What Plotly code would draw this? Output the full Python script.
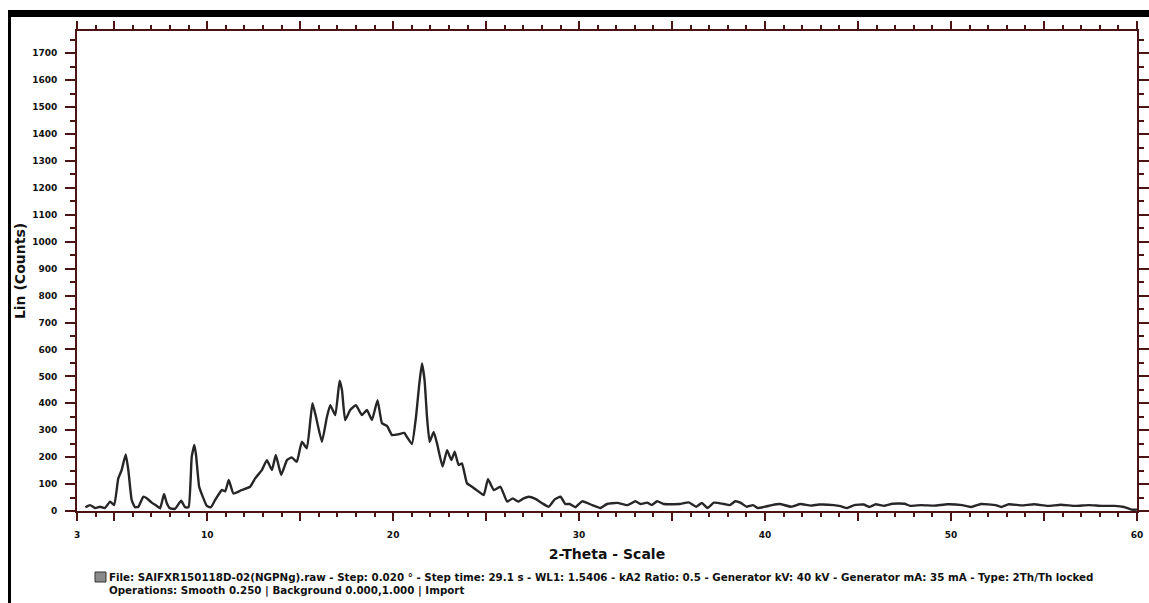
import plotly.graph_objects as go

# Diffraction pattern: 2-theta (degrees) and intensity (counts)
two_theta = [
    3.45, 3.7, 3.97, 4.24, 4.5, 4.78, 5.0, 5.22, 5.4, 5.62, 5.76, 5.94, 6.12, 6.3,
    6.57, 6.75, 7.02, 7.29, 7.47, 7.68, 7.83, 8.0, 8.27, 8.6, 8.81, 9.0, 9.17, 9.31,
    9.4, 9.57, 9.74, 9.98, 10.2, 10.43, 10.79, 10.97, 11.16, 11.41, 11.86, 12.31,
    12.58, 12.94, 13.21, 13.48, 13.69, 13.98, 14.29, 14.55, 14.82, 15.09, 15.36,
    15.66, 15.85, 16.17, 16.44, 16.62, 16.89, 17.12, 17.25, 17.42, 17.69, 18.0,
    18.32, 18.59, 18.86, 19.16, 19.4, 19.67, 19.94, 20.29, 20.6, 20.75, 21.01,
    21.23, 21.41, 21.55, 21.69, 21.82, 21.96, 22.18, 22.36, 22.66, 22.9, 23.13,
    23.31, 23.52, 23.7, 23.97, 24.24, 24.6, 24.87, 25.1, 25.41, 25.77, 26.13,
    26.43, 26.72, 27.02, 27.29, 27.65, 28.01, 28.37, 28.69, 29.0, 29.26, 29.5,
    29.8, 30.16, 30.7, 31.15, 31.5, 32.05, 32.6, 33.03, 33.3, 33.66, 33.9, 34.2,
    34.55, 35.4, 35.9, 36.3, 36.6, 36.9, 37.25, 37.8, 38.1, 38.4, 38.7, 39.0,
    39.35, 39.6, 40.0, 40.37, 40.8, 41.4, 41.9, 42.45, 42.9, 43.7, 44.06, 44.4,
    44.8, 45.3, 45.6, 45.95, 46.4, 46.85, 47.5, 47.8, 48.4, 49.1, 49.8, 50.6,
    51.1, 51.6, 52.4, 52.7, 53.1, 53.8, 54.47, 55.2, 55.9, 56.7, 57.4, 58.1,
    58.8, 59.3, 59.7, 60.0,
]
counts = [
    14, 22, 11, 16, 11, 35, 22, 121, 152, 210, 152, 41, 14, 16,
    53, 47, 31, 19, 10, 63, 29, 10, 8, 38, 14, 14, 202, 245,
    208, 90, 57, 19, 14, 41, 78, 73, 115, 65, 78, 90,
    121, 152, 189, 152, 208, 134, 189, 199, 183, 257, 233,
    400, 350, 257, 350, 393, 356, 484, 449, 338, 375, 393,
    356, 375, 338, 412, 326, 316, 282, 285, 290, 274, 249,
    350, 474, 548, 486, 350, 257, 294, 251, 165, 226, 189,
    220, 171, 177, 103, 90, 72, 59, 118, 78, 90, 35,
    47, 35, 47, 53, 45, 29, 16, 43, 53, 26, 26,
    14, 36, 22, 11, 26, 30, 22, 36, 26, 31, 22, 36,
    26, 26, 32, 16, 30, 11, 31, 26, 22, 36, 30, 16,
    22, 11, 16, 22, 26, 16, 26, 20, 24, 22, 18, 11,
    22, 24, 15, 25, 19, 27, 27, 19, 22, 20, 25, 22,
    15, 26, 22, 15, 25, 21, 25, 19, 23, 19, 22, 19,
    19, 15, 5, 5,
]

x_tickvals = [3, 5, 10, 15, 20, 25, 30, 35, 40, 45, 50, 55, 60]
x_ticktext = ["3", "", "10", "", "20", "", "30", "", "40", "", "50", "", "60"]
y_tickvals = list(range(0, 1800, 100))
y_ticktext = [str(v) for v in y_tickvals]

x_title = "2-Theta - Scale"
y_title = "Lin (Counts)"
footer_1 = ("File: SAIFXR150118D-02(NGPNg).raw - Step: 0.020 ° - Step time: 29.1 s - "
            "WL1: 1.5406 - kA2 Ratio: 0.5 - Generator kV: 40 kV - Generator mA: 35 mA - "
            "Type: 2Th/Th locked")
footer_2 = "Operations: Smooth 0.250 | Background 0.000,1.000 | Import"

AXIS = "#4a1414"
TXT = "#111111"
FONT = "DejaVu Sans"
W, H = 1149, 603
ML, MR, MT, MB = 77, 12, 31, 92
PW, PH = W - ML - MR, H - MT - MB


def px(xp):
    return (xp - ML) / PW


def py(yp):
    return (H - MB - yp) / PH


fig = go.Figure()
fig.add_trace(go.Scatter(
    x=two_theta, y=counts, mode="lines",
    line=dict(color="#262626", width=2.4, shape="spline", smoothing=0.4),
    hoverinfo="skip", showlegend=False,
))

tick_font = dict(family=FONT, size=9, color=TXT, weight="bold")
title_font = dict(family=FONT, size=14, color=TXT, weight="bold")

fig.update_xaxes(
    range=[3, 60], tickmode="array", tickvals=x_tickvals, ticktext=x_ticktext,
    ticks="outside", ticklen=8, tickwidth=2, tickcolor=AXIS,
    minor=dict(tickmode="linear", tick0=0, dtick=1, ticks="outside", ticklen=4,
               tickwidth=1.5, tickcolor=AXIS),
    showline=True, linecolor=AXIS, linewidth=2, mirror="ticks",
    showgrid=False, zeroline=False, tickfont=tick_font, ticklabelstandoff=6,
    automargin=False,
    title=dict(text=x_title, font=title_font, standoff=10),
)
fig.update_yaxes(
    range=[0, 1783], tickmode="array", tickvals=y_tickvals, ticktext=y_ticktext,
    ticks="outside", ticklen=10, tickwidth=2, tickcolor=AXIS,
    minor=dict(tickmode="linear", tick0=0, dtick=50, ticks="outside", ticklen=5,
               tickwidth=1.5, tickcolor=AXIS),
    showline=True, linecolor=AXIS, linewidth=2, mirror="ticks",
    showgrid=False, zeroline=False, tickfont=tick_font, ticklabelstandoff=6,
    automargin=False,
    title=dict(text=y_title, font=title_font, standoff=3),
)

shapes = [
    # heavy top rule and left edge of the frame
    dict(type="rect", xref="paper", yref="paper", x0=px(8), x1=px(W), y0=py(17), y1=py(10),
         fillcolor="black", line=dict(width=0), layer="above"),
    dict(type="rect", xref="paper", yref="paper", x0=px(8), x1=px(11), y0=py(H), y1=py(10),
         fillcolor="black", line=dict(width=0), layer="above"),
    # small scan icon before the footer
    dict(type="rect", xref="paper", yref="paper", x0=px(95), x1=px(106), y0=py(582), y1=py(572),
         fillcolor="#8a8a8a", line=dict(color="#333", width=1), layer="above"),
]

foot_font = dict(family=FONT, size=10.3, color=TXT, weight="bold")
annotations = [
    dict(text=footer_1, xref="paper", yref="paper", x=px(107), y=py(577),
         xanchor="left", yanchor="middle", showarrow=False, font=foot_font),
    dict(text=footer_2, xref="paper", yref="paper", x=px(107), y=py(590),
         xanchor="left", yanchor="middle", showarrow=False, font=foot_font),
]

fig.update_layout(
    width=W, height=H,
    margin=dict(l=ML, r=MR, t=MT, b=MB),
    paper_bgcolor="white", plot_bgcolor="white",
    shapes=shapes, annotations=annotations,
)

fig.write_html("out.html")
